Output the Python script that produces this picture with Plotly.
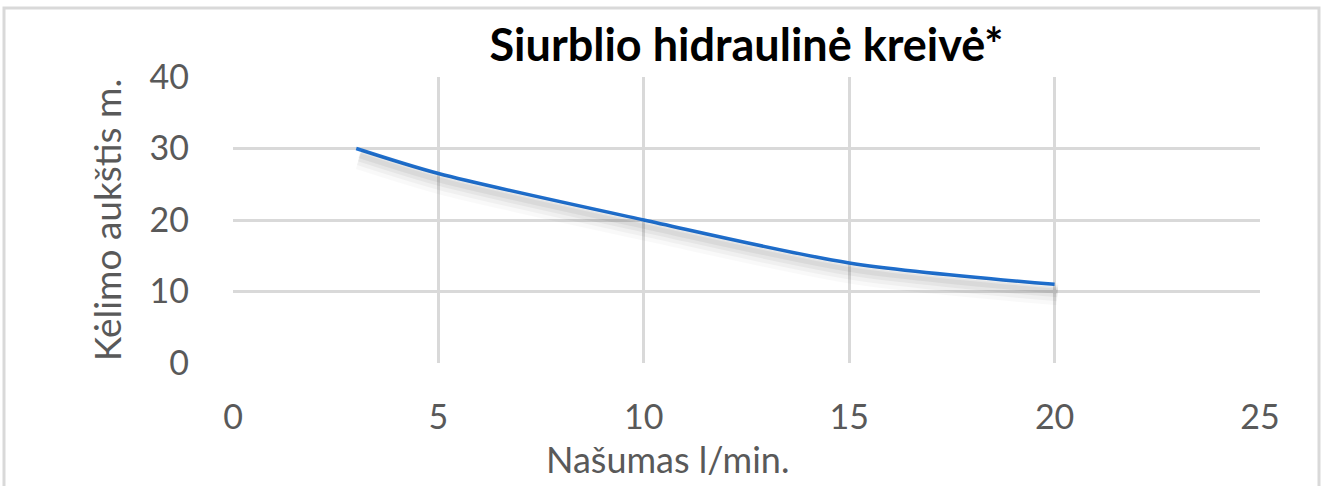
import plotly.graph_objects as go

flow = [3, 5, 10, 15, 20]
head = [30, 26.5, 20, 14, 11]
x_ticks = [0, 5, 10, 15, 20, 25]
y_ticks = [0, 10, 20, 30, 40]

W, H = 1322, 486
L, R, T, B = 233, 62, 77, 123
pw, ph = W - L - R, H - T - B

fig = go.Figure()

# soft shadow: same data drawn on slightly shifted overlay axes
shadow = [(10, 22, 0.025), (9, 16, 0.035), (8, 10, 0.045), (7, 5, 0.05)]
for i, (dy, w, op) in enumerate(shadow):
    ax = i + 2
    fig.add_trace(go.Scatter(x=flow, y=head, mode="lines", line=dict(color=f"rgba(0,0,0,{op})", width=w, shape="spline", smoothing=0.8),
                             xaxis=f"x{ax}", yaxis=f"y{ax}", hoverinfo="skip", showlegend=False))
    dx_units = 3 * 25 / pw
    dy_units = dy * 40 / ph
    fig.update_layout(**{
        f"xaxis{ax}": dict(range=[-dx_units, 25 - dx_units], overlaying="x", visible=False),
        f"yaxis{ax}": dict(range=[dy_units, 40 + dy_units], overlaying="y", visible=False),
    })

fig.add_trace(go.Scatter(x=flow, y=head, mode="lines", line=dict(color="#1f70d0", width=3.5, shape="spline", smoothing=0.8),
                         showlegend=False))

font = "Lato, Calibri, sans-serif"
fig.update_layout(
    width=W, height=H,
    margin=dict(l=L, r=R, t=T, b=B, autoexpand=False),
    paper_bgcolor="white", plot_bgcolor="white",
    font=dict(family=font, color="#595959"),
    title=dict(text="<b>Siurblio hidraulinė kreivė*</b>", x=(L + pw / 2) / W, xanchor="center", y=1 - 45 / H, yanchor="middle",
               font=dict(size=45, color="black", family=font)),
    xaxis=dict(range=[0, 25], tickvals=x_ticks, showgrid=True, gridcolor="#d9d9d9", gridwidth=3, zeroline=False,
               showline=False, tickfont=dict(size=34), ticks="", ticklabelstandoff=31, automargin=False),
    yaxis=dict(range=[0, 40], tickvals=y_ticks, showgrid=True, gridcolor="#d9d9d9", gridwidth=3, zeroline=False,
               showline=False, tickfont=dict(size=34), ticks="", ticklabelstandoff=43, automargin=False,
               title=dict(text="Kėlimo aukštis m.", font=dict(size=37), standoff=16)),
    annotations=[dict(text="Našumas l/min.", xref="paper", yref="paper", x=(667 - L) / pw, y=-(459 - 363) / ph,
                      xanchor="center", yanchor="middle", showarrow=False, font=dict(size=36, color="#595959", family=font))],
    shapes=[dict(type="rect", xref="paper", yref="paper", x0=(4 - L) / pw, x1=(1319 - L) / pw,
                 y0=-(H + 10 - T - ph) / ph, y1=1 + (T - 8) / ph, line=dict(color="#d9d9d9", width=3), layer="below")],
)

fig.write_html("out.html", config={"displayModeBar": False},
               post_script="document.body.style.margin='0';document.body.style.overflow='hidden';")
